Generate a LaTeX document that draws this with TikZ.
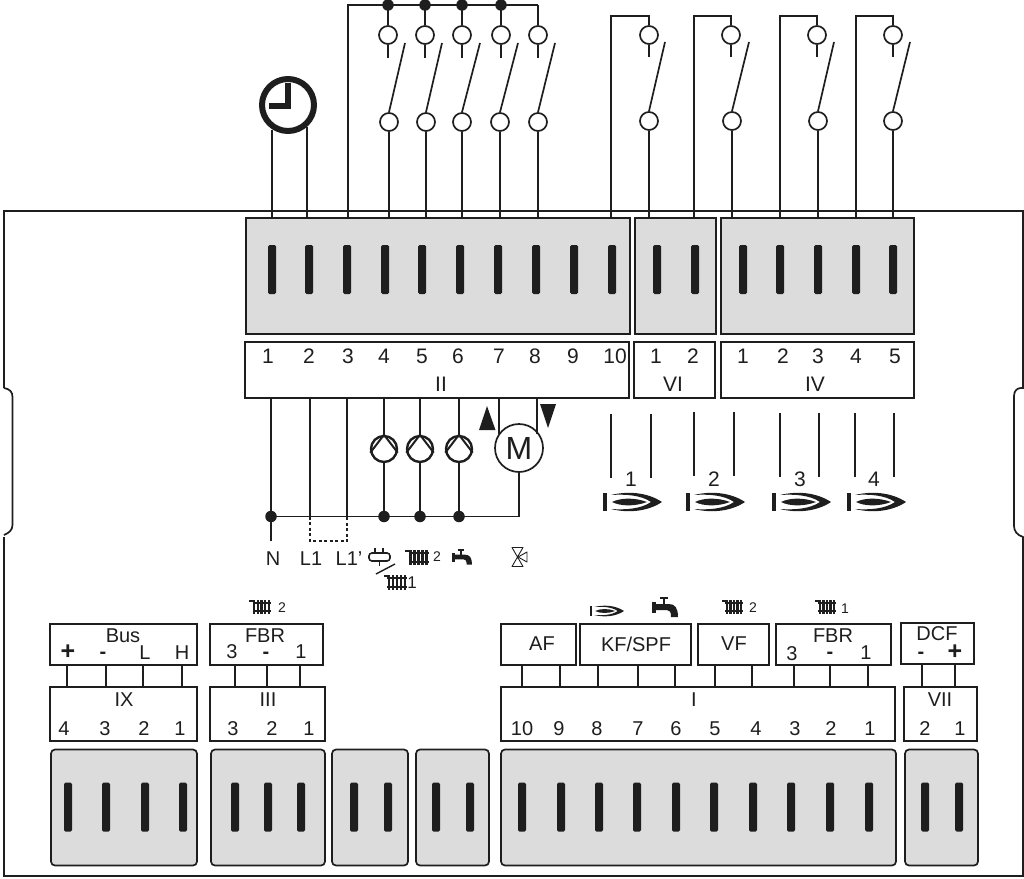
\documentclass[tikz,border=0pt]{standalone}
\usepackage{fontspec}
\setmainfont{Liberation Sans}
\definecolor{ink}{HTML}{1E1E1E}
\definecolor{plugfill}{HTML}{DCDCDC}
\tikzset{
  wire/.style={draw=ink,line width=1.7pt},
  frameline/.style={draw=ink,line width=1.7pt},
  wh/.style 2 args={minimum width=#1pt,minimum height=#2pt,anchor=north west},
  plugbox/.style={draw=ink,line width=1.7pt,fill=plugfill,inner sep=0pt,outer sep=0pt},
  plugroundbox/.style={plugbox,rounded corners=4pt},
  termbox/.style={draw=ink,line width=1.7pt,fill=white,inner sep=0pt,outer sep=0pt},
  pinbar/.style={fill=ink,inner sep=0pt,rounded corners=1.5pt,minimum width=8pt,minimum height=49pt},
  contact/.style={circle,draw=ink,line width=1.7pt,fill=white,inner sep=0pt,minimum size=18pt},
  junction/.style={circle,fill=ink,inner sep=0pt,minimum size=11.5pt},
  pumpring/.style={circle,draw=ink,line width=2.4pt,fill=white,inner sep=0pt,minimum size=26pt},
  motorring/.style={circle,draw=ink,line width=1.7pt,fill=white,inner sep=0pt,minimum size=48pt,font=\fontsize{32}{34}\selectfont,text=ink},
  clockring/.style={circle,draw=ink,line width=6pt,fill=white,inner sep=0pt,minimum size=52pt},
  lbl/.style={inner sep=0pt,text=ink,font=\fontsize{20}{22}\selectfont},
  biglbl/.style={inner sep=0pt,text=ink,font=\fontsize{21}{23}\selectfont},
  smalllbl/.style={inner sep=0pt,text=ink,font=\fontsize{14}{16}\selectfont},
  signlbl/.style={inner sep=0pt,text=ink,font=\fontsize{25}{27}\selectfont\bfseries},
  minuslbl/.style={inner sep=0pt,text=ink,font=\fontsize{20}{22}\selectfont\bfseries},
  burnerpic/.pic={
    \fill[ink] (-1.8,-9) rectangle (1.8,9);
    \fill[ink] (6,-7) .. controls (22,-11) and (42,-10) .. (57,0) .. controls (42,10) and (22,11) .. (6,7)
      .. controls (20,8) and (36,7) .. (46,0) .. controls (36,-7) and (20,-8) .. cycle;
    \fill[ink] (7,0) .. controls (16,-4.5) and (30,-4.5) .. (42,0) .. controls (30,4.5) and (16,4.5) .. cycle;
  },
  radiatorpic/.pic={
    \foreach \dx in {-8,-4,0,4,8} \fill[ink] (\dx-1.3,-7.5) rectangle (\dx+1.3,7.5);
    \fill[ink] (-10,-5.5) rectangle (10,-3.5);
    \fill[ink] (-10,3.5) rectangle (10,5.5);
    \fill[ink] (-13.5,-7.5) rectangle (-9,-5.5);
  },
  tappic/.pic={
    \fill[ink] (-13,-5) rectangle (-9.5,6);
    \fill[ink] (-10,-3) -- (4,-3) .. controls (10,-3) and (13,1) .. (13,10) -- (6,10)
      .. controls (6,5) and (5,3) .. (2,3) -- (-10,3) -- cycle;
    \draw[ink,line width=1.5pt] (-1,-3) -- (-1,-9) (-5,-9) -- (3,-9);
  },
  mixerpic/.pic={
    \draw[ink,line width=1.6pt,rounded corners=3pt] (-10.5,-4) rectangle (10.5,4);
    \draw[ink,line width=1.6pt] (-4.5,-9) -- (-4.5,-4) (3.5,-9) -- (3.5,-4) (0,4) -- (0,9);
  },
  valvepic/.pic={
    \draw[ink,line width=.9pt,line join=round] (-6,-9.5) -- (5,-9.5) -- (-6,9.5) -- (5,9.5) -- cycle;
    \draw[ink,line width=.9pt,line join=round] (0,0) -- (9,-5) -- (9,5) -- cycle;
  },
}

\begin{document}
\begin{tikzpicture}[x=1pt,y=-1pt]
  \useasboundingbox (0,0) rectangle (1024,878);

  % housing
  \draw[frameline] (4,388) -- (4,211) -- (1023,211) -- (1023,388) -- (1021,388)
    .. controls (1017,388) and (1014,391) .. (1014,396) -- (1014,526)
    .. controls (1014,531) and (1017,535) .. (1023,537) -- (1023,876) -- (1024,876) -- (4,876) -- (4,537);
  \draw[frameline] (4,388) .. controls (10,389) and (12.5,392) .. (12.5,397) -- (12.5,525)
    .. controls (12.5,530) and (9,533) .. (4,535);

  % upper plugs
  \node[plugbox,wh={384}{116}] (plugII) at (246,218) {};
  \node[plugbox,wh={81}{116}] (plugVI) at (635,218) {};
  \node[plugbox,wh={193}{116}] (plugIV) at (721,218) {};
  \foreach \x [count=\i] in {272,309,347,385,422,460,498,536,574,612}
    \node[pinbar] (pinII\i) at (\x,269.5) {};
  \foreach \x [count=\i] in {657,695}
    \node[pinbar] (pinVI\i) at (\x,269.5) {};
  \foreach \x [count=\i] in {743,780,818,856,893}
    \node[pinbar] (pinIV\i) at (\x,269.5) {};

  % upper terminal strips
  \node[termbox,wh={384}{56}] (stripII) at (245,342) {};
  \node[termbox,wh={81}{56}] (stripVI) at (634,342) {};
  \node[termbox,wh={193}{56}] (stripIV) at (721,342) {};
  \foreach \x/\t [count=\i] in {268/1,309/2,348/3,384/4,422/5,458/6,499/7,535/8,573/9,615/10}
    \node[biglbl] (numII\i) at (\x,356) {\t};
  \foreach \x/\t [count=\i] in {656/1,693/2}
    \node[biglbl] (numVI\i) at (\x,356) {\t};
  \foreach \x/\t [count=\i] in {743/1,783/2,818/3,856/4,895/5}
    \node[biglbl] (numIV\i) at (\x,356) {\t};
  \node[biglbl] (nameII) at (441,384) {II};
  \node[biglbl] (nameVI) at (673,384) {VI};
  \node[biglbl] (nameIV) at (815,384) {IV};

  % timer
  \coordinate (clkA) at (272,130);
  \coordinate (clkB) at (307,127);
  \draw[wire] (clkA) -- (clkA |- plugII.north);
  \draw[wire] (clkB) -- (clkB |- plugII.north);
  \node[clockring] (clock) at (288,105) {};
  \coordinate (handTop) at (288,83);
  \coordinate (handLeft) at (269,105.5);
  \draw[ink,line width=6pt] (handTop) -- (handTop |- handLeft) -- (handLeft);

  % switches on the common feed
  \coordinate (feedL) at (348,5);
  \foreach \n/\xa/\xb/\xt in {1/388/389/405,2/425/426/442,3/462/462/480,4/501/500/518,5/538/538/555} {
    \node[contact] (upper\n) at (\xa,35) {};
    \node[contact] (lower\n) at (\xb,122) {};
    \coordinate (stub\n) at (\xa,58);
    \coordinate (blade\n) at (\xt,43);
    \draw[wire] (upper\n) -- (stub\n);
    \draw[wire] (lower\n.north) -- (blade\n);
    \draw[wire] (lower\n) -- (lower\n |- plugII.north);
    \draw[wire] (upper\n) -- (upper\n |- feedL);
  }
  \draw[wire] (feedL |- plugII.north) -- (feedL) -- (upper5 |- feedL);
  \foreach \n in {1,2,3,4}
    \node[junction] (feedDot\n) at (upper\n |- feedL) {};

  % single switches
  \foreach \n/\xf/\xa/\xb/\xt in {6/611/649/649/665,7/694/731/732/749,8/780/817/818/834,9/856/893/893/910} {
    \node[contact] (upper\n) at (\xa,35) {};
    \node[contact] (lower\n) at (\xb,121) {};
    \coordinate (stub\n) at (\xa,57);
    \coordinate (blade\n) at (\xt,42);
    \coordinate (feed\n) at (\xf,16);
    \draw[wire] (upper\n) -- (stub\n);
    \draw[wire] (lower\n.north) -- (blade\n);
    \draw[wire] (lower\n) -- (lower\n |- plugII.north);
    \draw[wire] (feed\n |- plugII.north) -- (feed\n) -- (upper\n |- feed\n) -- (upper\n);
  }

  % pumps and mixer motor
  \coordinate (railN) at (271,516.5);
  \coordinate (railL) at (310,516.5);
  \coordinate (railLp) at (347,516.5);
  \coordinate (endN) at (271,541);
  \coordinate (linkA) at (310,541);
  \coordinate (linkB) at (347,541);
  \foreach \n/\x in {1/384,2/420,3/459} {
    \node[pumpring] (pump\n) at (\x,449) {};
    \draw[ink,line width=2pt] (pump\n.195) -- (pump\n.north) -- (pump\n.-15);
    \draw[wire] (stripII.south -| pump\n) -- (pump\n.north);
    \draw[wire] (pump\n.south) -- (pump\n |- railN);
  }
  \node[motorring] (motor) at (519,448) {M};
  \coordinate (motorA) at (499,434);
  \coordinate (motorB) at (537,434);
  \draw[wire] (stripII.south -| motorA) -- (motorA);
  \draw[wire] (stripII.south -| motorB) -- (motorB);
  \draw[wire] (railN) -- (motor |- railN) -- (motor.south);
  \draw[wire] (stripII.south -| railN) -- (endN);
  \draw[wire] (stripII.south -| railL) -- (railL);
  \draw[wire] (stripII.south -| railLp) -- (railLp);
  \draw[wire,dashed,dash pattern=on 3pt off 2.5pt] (railL) -- (linkA) -- (linkB) -- (railLp);
  \node[junction] (dotN) at (railN) {};
  \foreach \n in {1,2,3}
    \node[junction] (dotPump\n) at (pump\n |- railN) {};
  \fill[ink] (487,406) -- (495.5,430) -- (479,430) -- cycle;
  \fill[ink] (540,404) -- (556,404) -- (548,428) -- cycle;

  % labels below strip II
  \node[lbl] (capN) at (273,559) {N};
  \node[lbl] (capL) at (311,559) {L1};
  \node[lbl] (capLp) at (349,559) {L1'};
  \pic at (379.5,557) {mixerpic};
  \pic at (418.5,557) {radiatorpic};
  \node[smalllbl] (capTwo) at (437,557) {2};
  \coordinate (slashA) at (376,574);
  \coordinate (slashB) at (395,564);
  \draw[ink,line width=1.4pt] (slashA) -- (slashB);
  \pic at (397,582.5) {radiatorpic};
  \node[inner sep=0pt,text=ink,font=\fontsize{17}{19}\selectfont] (capOne) at (412,583) {1};
  \pic[scale=.77] at (462,557) {tappic};
  \pic at (518,557) {valvepic};

  % burner stages
  \foreach \n/\xb/\xa/\xc/\xl/\ya/\yb in {1/605/611/651/631/414/478,2/688/694/734/714/412/476,3/774/780/819/800/413/477,4/849/855/894/874/413/477} {
    \pic at (\xb,502) {burnerpic};
    \node[biglbl] (stage\n) at (\xl,479) {\n};
    \coordinate (stageA\n) at (\xa,\ya);
    \coordinate (stageB\n) at (\xa,\yb);
    \coordinate (stageC\n) at (\xc,\ya);
    \coordinate (stageD\n) at (\xc,\yb);
    \draw[wire] (stageA\n) -- (stageB\n);
    \draw[wire] (stageC\n) -- (stageD\n);
  }

  % lower plugs
  \node[plugroundbox,wh={146}{116}] (plugIX) at (51,749.5) {};
  \node[plugroundbox,wh={114}{116}] (plugIII) at (211,749.5) {};
  \node[plugroundbox,wh={76}{116}] (plugA) at (332,749.5) {};
  \node[plugroundbox,wh={73}{116}] (plugB) at (416,749.5) {};
  \node[plugroundbox,wh={395}{116}] (plugI) at (501,749.5) {};
  \node[plugroundbox,wh={73}{116}] (plugVII) at (905,749.5) {};
  \foreach \x [count=\i] in {68,106,145,183,235,268,301,354,388,436,470,522,561,599,637,676,714,753,791,830,869,925,959}
    \node[pinbar] (pinLow\i) at (\x,807) {};

  % lower terminal strips
  \node[termbox,wh={147}{54}] (stripIX) at (50,687) {};
  \node[termbox,wh={115}{54}] (stripIII) at (210,687) {};
  \node[termbox,wh={394}{54}] (stripI) at (501,687) {};
  \node[termbox,wh={73}{54}] (stripVII) at (904,687) {};
  \node[termbox,wh={147}{41}] (sensBus) at (50,624) {};
  \node[termbox,wh={113}{41}] (sensFBRb) at (210,624) {};
  \node[termbox,wh={75}{41}] (sensAF) at (501,624) {};
  \node[termbox,wh={111}{41}] (sensKF) at (580,624) {};
  \node[termbox,wh={71}{41}] (sensVF) at (698,624) {};
  \node[termbox,wh={115}{41}] (sensFBRa) at (776,624) {};
  \node[termbox,wh={73}{41}] (sensDCF) at (901,623) {};

  % strip to sensor links
  \foreach \x/\s/\t in {67/sensBus/stripIX,106/sensBus/stripIX,143/sensBus/stripIX,182/sensBus/stripIX,
      235/sensFBRb/stripIII,267/sensFBRb/stripIII,300/sensFBRb/stripIII,
      522/sensAF/stripI,560/sensAF/stripI,598/sensKF/stripI,638/sensKF/stripI,675/sensKF/stripI,
      715/sensVF/stripI,752/sensVF/stripI,794/sensFBRa/stripI,830/sensFBRa/stripI,868/sensFBRa/stripI,
      922/sensDCF/stripVII,955/sensDCF/stripVII} {
    \coordinate (linkPt) at (\x,670);
    \draw[wire] (\s.south -| linkPt) -- (\t.north -| linkPt);
  }

  % sensor labels
  \node[lbl] (capBus) at (123,636) {Bus};
  \node[signlbl] (capPlus) at (68,652) {+};
  \node[minuslbl] (capMinus) at (103,655) {-};
  \node[lbl] (capLL) at (145,653) {L};
  \node[lbl] (capH) at (182,653) {H};
  \node[lbl] (capFBRb) at (265,636) {FBR};
  \node[lbl] (capFBRbc) at (232,652) {3};
  \node[minuslbl] (capFBRbb) at (266,655) {-};
  \node[lbl] (capFBRba) at (301,652) {1};
  \node[lbl] (capAF) at (542,644) {AF};
  \node[lbl] (capKF) at (636,644) {KF/SPF};
  \node[lbl] (capVF) at (734,644) {VF};
  \node[lbl] (capFBRa) at (833,636) {FBR};
  \node[lbl] (capFBRac) at (792,654) {3};
  \node[minuslbl] (capFBRab) at (830,655) {-};
  \node[lbl] (capFBRaa) at (866,653) {1};
  \node[lbl] (capDCF) at (937,634) {DCF};
  \node[minuslbl] (capDCFb) at (921,655) {-};
  \node[signlbl] (capDCFa) at (955,652) {+};

  % strip labels
  \node[lbl] (nameIX) at (124,700) {IX};
  \node[lbl] (nameIII) at (268,700) {III};
  \node[lbl] (nameI) at (694,700) {I};
  \node[lbl] (nameVII) at (940,700) {VII};
  \foreach \x/\t [count=\i] in {64/4,105/3,144/2,180/1,233/3,272/2,309/1,522/10,559/9,597/8,638/7,676/6,715/5,756/4,795/3,831/2,870/1,925/2,960/1}
    \node[lbl] (numLow\i) at (\x,729) {\t};

  % symbols above the sensors
  \pic[scale=.9] at (261.5,607) {radiatorpic};
  \node[smalllbl] (symTwoA) at (282,608) {2};
  \pic[scale=.58] at (591,611) {burnerpic};
  \pic at (665,607) {tappic};
  \pic[scale=.9] at (734,607) {radiatorpic};
  \node[smalllbl] (symTwoB) at (753,608) {2};
  \pic[scale=.9] at (827,607) {radiatorpic};
  \node[smalllbl] (symOne) at (845,609) {1};
\end{tikzpicture}
\end{document}
